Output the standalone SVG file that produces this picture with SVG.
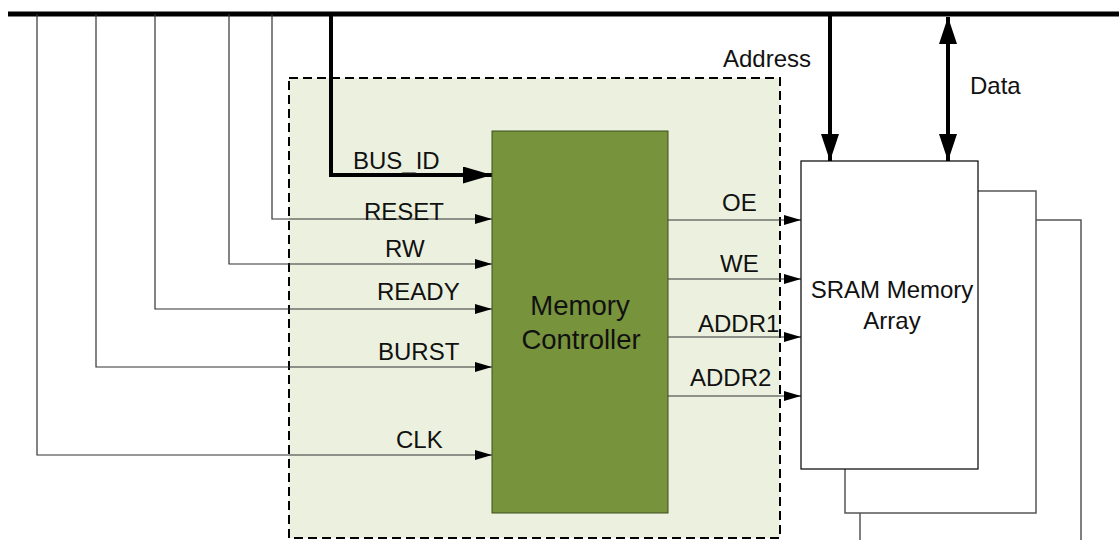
<svg xmlns="http://www.w3.org/2000/svg" width="1119" height="540" viewBox="0 0 1119 540">
<style>
text{font-family:"Liberation Sans",Arial,sans-serif;font-size:24px;fill:#111}
.big{font-size:27.5px}
.thin{stroke:#333;stroke-width:1.2;fill:none}
.thick{stroke:#000;stroke-width:4;fill:none}
.stack{stroke:#555;stroke-width:1.5;fill:none}
</style>
<defs>
<marker id="aThin" markerUnits="userSpaceOnUse" markerWidth="17" markerHeight="10" refX="17" refY="5" orient="auto"><path d="M0,0 L17,5 L0,10 z" fill="#000"/></marker>
<marker id="aBus" markerUnits="userSpaceOnUse" markerWidth="29" markerHeight="17" refX="29" refY="8.5" orient="auto"><path d="M0,0 L29,8.5 L0,17 z" fill="#000"/></marker>
<marker id="aBig" markerUnits="userSpaceOnUse" markerWidth="27" markerHeight="18" refX="27" refY="9" orient="auto-start-reverse"><path d="M0,0 L27,9 L0,18 z" fill="#000"/></marker>
</defs>
<rect width="1119" height="540" fill="#fff"/>

<g id="controller-boundary">
<rect x="289" y="78" width="491" height="460" fill="#ebf1de" stroke="#000" stroke-width="2" stroke-dasharray="9,5"/>
</g>

<g id="sram-stack">
<polyline class="stack" points="978,191 1036,191 1036,513 845,513 845,469"/>
<polyline class="stack" points="1036,220 1081,220 1081,545"/>
<line class="stack" x1="860" y1="513" x2="860" y2="545"/>
</g>

<g id="connectors">
<line x1="8" y1="14" x2="1119" y2="14" stroke="#000" stroke-width="5"/>
<polyline class="thin" points="37,14 37,455 492,455" marker-end="url(#aThin)"/>
<polyline class="thin" points="96,14 96,367 492,367" marker-end="url(#aThin)"/>
<polyline class="thin" points="155,14 155,309 492,309" marker-end="url(#aThin)"/>
<polyline class="thin" points="229,14 229,264 492,264" marker-end="url(#aThin)"/>
<polyline class="thin" points="272,14 272,219 492,219" marker-end="url(#aThin)"/>
<polyline class="thick" points="331,14 331,175 492,175" marker-end="url(#aBus)"/>
<line class="thin" x1="668" y1="220" x2="801" y2="220" marker-end="url(#aThin)"/>
<line class="thin" x1="668" y1="279" x2="801" y2="279" marker-end="url(#aThin)"/>
<line class="thin" x1="668" y1="337" x2="801" y2="337" marker-end="url(#aThin)"/>
<line class="thin" x1="668" y1="396" x2="801" y2="396" marker-end="url(#aThin)"/>
<line class="thick" x1="830" y1="14" x2="830" y2="161" marker-end="url(#aBig)"/>
<line class="thick" x1="948" y1="17" x2="948" y2="161" marker-start="url(#aBig)" marker-end="url(#aBig)"/>
<text x="723" y="67">Address</text>
<text x="970" y="94">Data</text>
<text x="353" y="169">BUS_ID</text>
<text x="364" y="220">RESET</text>
<text x="385" y="257">RW</text>
<text x="377" y="300">READY</text>
<text x="378" y="360">BURST</text>
<text x="396" y="448">CLK</text>
<text x="722" y="211">OE</text>
<text x="720" y="272">WE</text>
<text x="698" y="332">ADDR1</text>
<text x="690" y="386">ADDR2</text>
</g>

<g id="memory-controller">
<rect x="492" y="131" width="176" height="382" fill="#77933c" stroke="#3d4f1f" stroke-width="1"/>
<text class="big" x="580" y="315" text-anchor="middle">Memory</text>
<text class="big" x="581" y="349" text-anchor="middle">Controller</text>
</g>

<g id="sram-array">
<rect x="801" y="161" width="177" height="308" fill="#fff" stroke="#000" stroke-width="1.2"/>
<text x="892" y="298" text-anchor="middle">SRAM Memory</text>
<text x="892" y="329" text-anchor="middle">Array</text>
</g>
</svg>
